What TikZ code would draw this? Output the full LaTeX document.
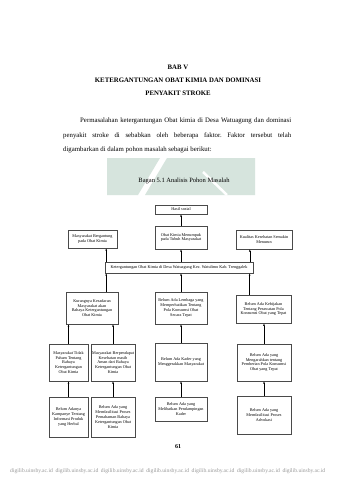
\documentclass[tikz,border=0pt]{standalone}
\usepackage{fontspec}
\setmainfont{Liberation Serif}
\definecolor{hijauwm}{HTML}{D6E4DD}
\definecolor{garis}{HTML}{4A4A4A}
\usetikzlibrary{arrows.meta, positioning, calc}
\newcommand{\isifont}{\fontsize{4.2}{4.8}\selectfont}
\newcommand{\teksfont}{\fontsize{6.8}{8}\selectfont}
\frenchspacing

\begin{document}
\begin{tikzpicture}[
        x=1pt, y=-1pt,
        kotak/.style={draw=garis, line width=0.4pt, align=center,
                      font=\isifont, inner sep=0pt},
        panah/.style={-{Latex[length=2.4pt,width=1.8pt]}, line width=0.5pt},
        judul/.style={font=\teksfont\bfseries, inner sep=0pt},
        teks/.style={font=\teksfont, anchor=west, inner sep=0pt}
      ]
      \fill[white] (0,0) rectangle (339,480);
      \useasboundingbox (0,0) rectangle (339,480);

      \node[judul] (bab)   at (178,67) {BAB V};
      \node[judul] (judul1) at (178,80) {KETERGANTUNGAN OBAT KIMIA DAN DOMINASI};
      \node[judul] (judul2) at (178,93) {PENYAKIT STROKE};

      \node[teks] (baris1) at (80,121)
        {\makebox[211pt][s]{Permasalahan ketergantungan Obat kimia di Desa Watuagung dan dominasi}};
      \node[teks] (baris2) at (63,136)
        {\makebox[228pt][s]{penyakit stroke di sebabkan oleh beberapa faktor. Faktor tersebut telah}};
      \node[teks] (baris3) at (63,150)
        {digambarkan di dalam pohon masalah sebagai berikut:};

      \fill[hijauwm] (107,158) -- (160,158) -- (138,195) -- (107,195) -- cycle;
      \fill[hijauwm] (167,158) -- (255,158) -- (255,195) -- (145,195) -- cycle;
      \draw[white, line width=2.5pt] (203,172) -- (227,195);

      \node[font=\fontsize{6.5}{7.5}\selectfont] (bagan) at (184,181)
        {Bagan 5.1 Analisis Pohon Masalah};

      \node[kotak, minimum width=52, minimum height=9] (hasil) at (181,209.5)
        {Hasil sosial};

      \node[kotak, minimum width=49, minimum height=18] (dampak1) at (92.5,239)
        {Masyarakat Bergantung\\pada Obat Kimia};
      \node[kotak, minimum width=52, minimum height=23] (dampak2) at (181,237.5)
        {Obat Kimia Menumpuk\\pada Tubuh Masyarakat};
      \node[kotak, minimum width=56, minimum height=19] (dampak3) at (264,239.5)
        {Kualitas Kesehatan Semakin\\Menurun};

      \node[kotak, minimum width=148, minimum height=11] (inti) at (179,267.5)
        {Ketergantungan Obat Kimia di Desa Watuagung Kec. Watulimo Kab. Trenggalek};

      \node[kotak, minimum width=52, minimum height=32] (sebab1) at (92,308)
        {Kurangnya Kesadaran\\Masyarakat akan\\Bahaya Ketergantungan\\Obat Kimia};
      \node[kotak, minimum width=52, minimum height=32] (sebab2) at (181,308)
        {Belum Ada Lembaga yang\\Memperhatikan Tentang\\Pola Konsumsi Obat\\Secara Tepat};
      \node[kotak, minimum width=55, minimum height=28, line width=0.7pt] (sebab3) at (263.5,309)
        {Belum Ada Kebijakan\\Tentang Perawatan Pola\\Konsumsi Obat yang Tepat};

      \node[kotak, minimum width=39, minimum height=37] (akar1) at (68.5,362.5)
        {Masyarakat Tidak\\Paham Tentang\\Bahaya\\Ketergantungan\\Obat Kimia};
      \node[kotak, minimum width=44, minimum height=37] (akar2) at (113,362.5)
        {Masyarakat Berpendapat\\Kesehatan masih\\Aman dari Bahaya\\Ketergantungan Obat\\Kimia};
      \node[kotak, minimum width=52, minimum height=38] (akar3) at (181,362)
        {Belum Ada Kader yang\\Menggerakkan Masyarakat};
      \node[kotak, minimum width=54, minimum height=37] (akar4) at (264,362.5)
        {Belum Ada yang\\Mengarahkan tentang\\Pemberian Pola Konsumsi\\Obat yang Tepat};

      \node[kotak, minimum width=39, minimum height=40] (dasar1) at (68.5,417)
        {Belum Adanya\\Kampanye Tentang\\Informasi Produk\\yang Herbal};
      \node[kotak, minimum width=44, minimum height=40] (dasar2) at (113,417)
        {Belum Ada yang\\Memfasilitasi Proses\\Pemahaman Bahaya\\Ketergantungan Obat\\Kimia};
      \node[kotak, minimum width=52, minimum height=24] (dasar3) at (181,409)
        {Belum Ada yang\\Melibatkan Pendampingan\\Kader};
      \node[kotak, minimum width=54, minimum height=38] (dasar4) at (264,415)
        {Belum Ada yang\\Memfasilitasi Proses\\Advokasi};

      \coordinate (k1) at ([xshift=-11pt]dampak1.south east);
      \coordinate (k3) at ([xshift=14pt]dampak3.south west);
      \coordinate (k4) at ([xshift=-12pt]sebab1.north east);
      \coordinate (k6) at ([xshift=14pt]sebab3.north west);

      \draw[panah] (dampak2.north) -- (hasil.south);
      \draw[panah] (inti.north -| k1) -- (k1);
      \draw[panah] (inti.north -| dampak2.south) -- (dampak2.south);
      \draw[panah] (inti.north -| k3) -- (k3);

      \draw[panah] (k4) -- (inti.south -| k4);
      \draw[panah] (sebab2.north) -- (inti.south -| sebab2.north);
      \draw[panah] (k6) -- (inti.south -| k6);

      \draw[panah] (akar1.north) -- (sebab1.south -| akar1.north);
      \draw[panah] (akar2.north) -- (sebab1.south -| akar2.north);
      \draw[panah] (akar3.north) -- (sebab2.south);
      \draw[panah] (akar4.north) -- (sebab3.south -| akar4.north);

      \draw[panah] (dasar1.north) -- (akar1.south);
      \draw[panah] (dasar2.north) -- (akar2.south);
      \draw[panah] (dasar3.north) -- (akar3.south);
      \draw[panah] (dasar4.north) -- (akar4.south);

      \node[font=\fontsize{6}{7}\selectfont\bfseries] (halaman) at (178,447) {61};

      \node[anchor=west, inner sep=0pt, text=black!40,
            font=\fontsize{5.6}{6.5}\selectfont] (kaki) at (10,471)
        {\makebox[315pt][s]{digilib.uinsby.ac.id digilib.uinsby.ac.id digilib.uinsby.ac.id digilib.uinsby.ac.id digilib.uinsby.ac.id digilib.uinsby.ac.id digilib.uinsby.ac.id}};
    \end{tikzpicture}
\end{document}
